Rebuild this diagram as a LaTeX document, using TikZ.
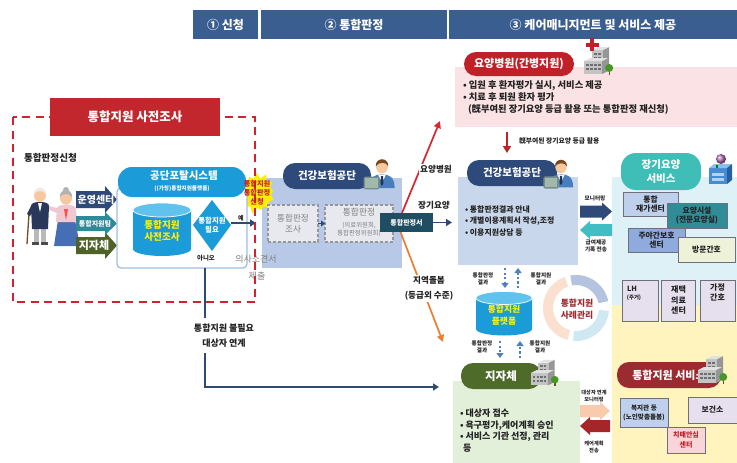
\documentclass[tikz,border=0pt]{standalone}
\usepackage{fontspec}
\setmainfont{Noto Sans CJK KR}
\usetikzlibrary{shapes.symbols,arrows.meta}

\newcommand\fsz[2]{\fontsize{#1}{#2}\selectfont}
% block arrows: colour, x from, x to, y centre, body half height, head half height
\newcommand\rblock[6]{\fill[#1] (#2,#4-#5) -- (#3-10,#4-#5) -- (#3-10,#4-#6) -- (#3,#4) -- (#3-10,#4+#6) -- (#3-10,#4+#5) -- (#2,#4+#5) -- cycle;}
\newcommand\lblock[6]{\fill[#1] (#3,#4-#5) -- (#2+10,#4-#5) -- (#2+10,#4-#6) -- (#2,#4) -- (#2+10,#4+#6) -- (#2+10,#4+#5) -- (#3,#4+#5) -- cycle;}
% upright drum: x centre, y top rim, y bottom rim, x radius, y radius, body colour, lid colour
\newcommand\drum[7]{\fill[#6] (#1-#4,#2) -- (#1-#4,#3) arc[start angle=180,end angle=0,x radius=#4,y radius=#5] -- (#1+#4,#2) -- cycle;
 \fill[#7,draw=white,line width=0.7pt] (#1,#2) ellipse[x radius=#4,y radius=#5];}

\definecolor{hdrblue}{RGB}{59,94,145}
\definecolor{dashred}{RGB}{213,33,47}
\definecolor{titlered}{RGB}{193,39,45}
\definecolor{portalblue}{RGB}{27,155,215}
\definecolor{portaltop}{RGB}{95,195,238}
\definecolor{portalline}{RGB}{160,190,225}
\definecolor{capyellow}{RGB}{255,240,0}
\definecolor{armblue}{RGB}{47,74,120}
\definecolor{armteal}{RGB}{46,138,153}
\definecolor{armolive}{RGB}{79,98,40}
\definecolor{panel2}{RGB}{183,201,230}
\definecolor{pilldark}{RGB}{46,74,122}
\definecolor{dboxfill}{RGB}{232,233,238}
\definecolor{dboxline}{RGB}{150,150,155}
\definecolor{docteal}{RGB}{31,78,99}
\definecolor{linknavy}{RGB}{46,74,114}
\definecolor{linkred}{RGB}{217,38,46}
\definecolor{caseorange}{RGB}{237,125,49}
\definecolor{hosppink}{RGB}{251,226,228}
\definecolor{hospred}{RGB}{192,32,40}
\definecolor{panel3}{RGB}{201,215,236}
\definecolor{recteal}{RGB}{64,190,195}
\definecolor{ltcbg}{RGB}{222,241,247}
\definecolor{ltcteal}{RGB}{63,190,183}
\definecolor{svcyellow}{RGB}{255,244,190}
\definecolor{govgreen}{RGB}{226,239,217}
\definecolor{govolive}{RGB}{78,107,42}
\definecolor{svcred}{RGB}{156,43,49}
\definecolor{peach}{RGB}{248,203,173}
\definecolor{careplan}{RGB}{165,38,40}
\definecolor{textdark}{RGB}{35,35,35}
\definecolor{textgray}{RGB}{128,128,128}
\definecolor{burstyellow}{RGB}{255,238,0}
\definecolor{dotblue}{RGB}{79,129,189}
\definecolor{ltcblue}{RGB}{190,208,235}
\definecolor{nursteal}{RGB}{48,140,150}
\definecolor{daycare}{RGB}{143,170,220}
\definecolor{visitcream}{RGB}{238,242,216}
\definecolor{lavender}{RGB}{230,224,238}
\definecolor{dementia}{RGB}{249,213,218}
\definecolor{boxline}{RGB}{110,110,125}
\definecolor{ringblue}{RGB}{180,196,224}
\definecolor{ringpeach}{RGB}{251,224,208}
\definecolor{ringcyan}{RGB}{208,232,242}
\definecolor{skin}{RGB}{245,200,160}
\definecolor{hairbrown}{RGB}{120,72,30}
\definecolor{agentblue}{RGB}{70,126,190}
\definecolor{agentnavy}{RGB}{30,50,90}
\definecolor{laptopgray}{RGB}{120,140,140}
\definecolor{screengray}{RGB}{160,185,170}
\definecolor{bldglight}{RGB}{225,225,225}
\definecolor{bldgmid}{RGB}{195,195,195}
\definecolor{bldgdark}{RGB}{150,150,150}
\definecolor{windowgray}{RGB}{110,110,115}
\definecolor{treegreen}{RGB}{70,150,40}
\definecolor{manjacket}{RGB}{40,55,90}
\definecolor{hanbokblue}{RGB}{70,110,180}
\definecolor{hanbokpink}{RGB}{240,200,210}
\definecolor{hairwhite}{RGB}{235,235,235}
\definecolor{ltciconblue}{RGB}{70,140,210}
\definecolor{ltciconlight}{RGB}{140,190,235}
\definecolor{ltcicondark}{RGB}{40,95,160}

\tikzset{
 pics/agent/.style={code={
  \fill[agentblue] (-11,14) .. controls (-11,4) and (-6,2) .. (0,2) .. controls (6,2) and (11,4) .. (11,14) -- cycle;
  \fill[white] (-3.5,2.3) -- (0,9) -- (3.5,2.3) -- cycle;
  \fill[agentnavy] (-1,3.5) -- (1,3.5) -- (1.2,10) -- (0,12) -- (-1.2,10) -- cycle;
  \fill[skin] (0,-5) ellipse[x radius=5.2,y radius=6.3];
  \fill[hairbrown] (-5.4,-5) .. controls (-6,-13) and (6,-13) .. (5.4,-5) .. controls (4,-9) and (-3,-9) .. (-5.4,-5) -- cycle;
  \fill[laptopgray,rounded corners=1.5pt] (-16,4) rectangle (-2,15);
  \fill[screengray] (-14.5,5.5) rectangle (-3.5,13.5);
 }},
 pics/bldg/.style={code={
  \fill[bldgmid] (-8,-12) rectangle (3,8);
  \fill[bldgdark] (3,-12) -- (9,-15) -- (9,5) -- (3,8) -- cycle;
  \fill[bldglight] (-8,-12) -- (-2,-15) -- (9,-15) -- (3,-12) -- cycle;
  \foreach \wx in {-6,-2} \foreach \wy in {-9,-5} \fill[windowgray] (\wx,\wy) rectangle ++(2.5,2);
  \fill[bldgmid] (-16,-1) rectangle (2,12);
  \fill[bldgdark] (2,-1) -- (8,-4) -- (8,9) -- (2,12) -- cycle;
  \fill[bldglight] (-16,-1) -- (-10,-4) -- (8,-4) -- (2,-1) -- cycle;
  \foreach \wx in {-14,-10,-6,-2} \foreach \wy in {2,6} \fill[windowgray] (\wx,\wy) rectangle ++(2.5,2);
  \fill[brown!60!black] (8.5,8) rectangle (10,13);
  \fill[treegreen] (9.2,6) circle[radius=4];
 }},
 pics/carekit/.style={code={
  \fill[ltciconblue] (-12,-2) rectangle (6,14);
  \fill[ltciconlight] (-12,-2) -- (-7,-6) -- (11,-6) -- (6,-2) -- cycle;
  \fill[ltcicondark] (6,-2) -- (11,-6) -- (11,10) -- (6,14) -- cycle;
  \fill[white!60!ltciconblue] (-9,3) rectangle (3,6);
  \fill[white!60!ltciconblue] (-9,8) rectangle (3,11);
  \fill[green!50!black] (-5,-5) rectangle (-3,-2);
  \shade[ball color=violet!55] (0,-11) circle[radius=5];
 }}
}

\begin{document}
\begin{tikzpicture}[x=1pt,y=-1pt,
  every node/.style={inner sep=0pt,outer sep=0pt},
  hdrcell/.style={fill=hdrblue,text=white,font=\fsz{12}{14}\bfseries,minimum height=29pt},
  pill/.style={rounded corners=12pt,text=white,font=\fsz{10.5}{12}\bfseries,minimum height=26pt},
  tag/.style={text=textdark,font=\fsz{8.6}{10.5}\bfseries,align=center},
  note/.style={text=textdark,font=\fsz{5.6}{7.4}\bfseries,align=center},
  bullets/.style={anchor=west,align=left,text=textdark},
  link/.style={draw=linknavy,line width=1.8pt,-{Triangle[length=6pt,width=7pt]}},
  dotlink/.style={draw=dotblue,line width=2.4pt,dash pattern=on 2.3pt off 2.2pt,-{Triangle[length=5pt,width=7pt]}},
  judgebox/.style={draw=dboxline,line width=1.1pt,dash pattern=on 3pt off 2pt,fill=dboxfill,text=textgray,align=center},
  svcbox/.style={draw=boxline,line width=0.8pt,text=textdark,font=\fsz{7.8}{9.6}\bfseries,align=center},
 ]
\fill[white] (0,0) rectangle (737,463);
\useasboundingbox (0,0) rectangle (737,463);

% phase headers
\node[hdrcell,minimum width=65pt] (hA) at (225.5,24.5) {① 신청};
\node[hdrcell,minimum width=186pt] (hB) at (354,24.5) {② 통합판정};
\node[hdrcell,minimum width=288pt] (hC) at (593,24.5) {③ 케어매니지먼트 및 서비스 제공};

% background panels
\node[fill=panel2,minimum width=140pt,minimum height=90pt] (nhis2) at (332,223) {};
\node[fill=hosppink,minimum width=282pt,minimum height=60pt] (hosp) at (596,97) {};
\node[fill=panel3,minimum width=120pt,minimum height=88pt] (nhis3) at (518,221) {};
\node[fill=govgreen,minimum width=127pt,minimum height=82pt] (gov) at (516.5,422) {};
\node[fill=ltcbg,minimum width=125pt,minimum height=128pt] (ltc) at (674.5,241) {};
\node[fill=svcyellow,minimum width=125pt,minimum height=158pt] (svc) at (674.5,384) {};

% application burst
\node[starburst,fill=burstyellow,minimum width=42pt,minimum height=44pt,starburst points=13,starburst point height=7pt] (burst) at (257,193) {};

\node[anchor=west,text=textdark,font=\fsz{9.6}{11}\bfseries] (applyhd) at (24,158) {통합판정신청};

% elderly couple
\draw[brown!60!black,line width=1.3pt] (29,214) -- (27,244);
\fill[gray!55] (34,226) rectangle (39,243);
\fill[gray!55] (41,226) rectangle (46,243);
\fill[black!70] (32,242) rectangle (39,245);
\fill[black!70] (41,242) rectangle (48,245);
\fill[manjacket] (31,206) .. controls (31,203) and (35,202) .. (40,202) .. controls (45,202) and (49,203) .. (49,206) -- (48,229) -- (32,229) -- cycle;
\fill[manjacket] (31,206) -- (27,214) -- (30,216) -- (34,210) -- cycle;
\fill[white] (38,203) -- (40,212) -- (42,203) -- cycle;
\fill[skin] (40,195) ellipse[x radius=6,y radius=7];
\fill[hairwhite] (34,194) .. controls (34,186) and (46,186) .. (46,194) .. controls (43,190) and (37,190) .. (34,194);
\fill[hanbokblue] (58,220) -- (75,220) -- (80,246) -- (54,246) -- cycle;
\fill[hanbokpink] (57,208) .. controls (58,205) and (62,205) .. (66,205) .. controls (70,205) and (74,205) .. (76,208) -- (77,222) -- (56,222) -- cycle;
\fill[hanbokpink] (57,208) -- (49,206) -- (49,210) -- (57,213) -- cycle;
\fill[red!70] (64,209) -- (68,209) -- (66,220) -- cycle;
\fill[skin] (66,198) ellipse[x radius=6,y radius=6.8];
\fill[gray!60] (60,197) .. controls (59,188) and (73,188) .. (72,197) .. controls (70,193) and (62,193) .. (60,197);
\fill[gray!60] (66,190) circle[radius=3];

% intake channels
\fill[armolive] (76,237) -- (105,237) -- (105,232) -- (117,245.5) -- (105,259) -- (105,254) -- (76,254) -- cycle;
\fill[armteal] (76,216) -- (105,216) -- (105,212) -- (117,223.5) -- (105,235) -- (105,231) -- (76,231) -- cycle;
\fill[armblue] (76,191) -- (105,191) -- (105,186) -- (117,199.5) -- (105,213) -- (105,208) -- (76,208) -- cycle;
\node[text=white,font=\fsz{10}{11}\bfseries] (opcenter) at (96,199.5) {운영센터};
\node[text=white,font=\fsz{7}{8}\bfseries] (team) at (95,223.5) {통합지원팀};
\node[text=white,font=\fsz{11}{12}\bfseries] (localgov) at (94,245.5) {지자체};

% portal system
\node[draw=portalline,line width=1.3pt,fill=white,rounded corners=4pt,minimum width=130pt,minimum height=80pt] (portal) at (182,228) {};
\node[fill=portalblue,rounded corners=14pt,minimum width=128pt,minimum height=30pt] (portalhd) at (182,182) {};
\node[text=white,font=\fsz{10.5}{12}\bfseries] (portalname) at (184,176) {공단포탈시스템};
\node[text=white,font=\fsz{5.6}{7}\bfseries] (portalsub) at (182,188.5) {((가칭)통합지원플랫폼)};
\drum{162}{210}{249}{29}{7}{portalblue}{portaltop}
\node[text=capyellow,font=\fsz{9.6}{12}\bfseries,align=center] (survey) at (162,231) {통합지원\\사전조사};
\fill[portalblue] (212,200) -- (231,225) -- (212,251) -- (193,225) -- cycle;
\node[text=white,font=\fsz{7.4}{9.5}\bfseries,align=center] (need) at (212,225) {통합지원\\필요};
\coordinate (needE) at (231,223);
\coordinate (yesE) at (256,223);
\draw[link] (needE) -- (yesE);
\node[text=textdark,font=\fsz{6}{7}\bfseries] (yes) at (241,218) {예};
\node[text=textdark,font=\fsz{6.4}{7}\bfseries] (no) at (206,258) {아니오};

% doctor's opinion note
\node[text=textgray,font=\fsz{9}{11}] (opinion) at (256,259) {의사소견서};
\node[text=textgray,font=\fsz{9}{11}] (opinion2) at (257,276) {제출};

% pre-survey frame
\draw[dashred,line width=2.2pt,dash pattern=on 8pt off 5.5pt] (13,117) rectangle (255,302);
\node[fill=titlered,text=white,font=\fsz{12.5}{14}\bfseries,minimum width=170pt,minimum height=38pt] (pretitle) at (135,117) {통합지원 사전조사};
\node[text=hospred,font=\fsz{7.2}{9.2}\bfseries,align=center] (bursttxt) at (257,193) {통합지원\\통합판정\\신청};

% no-support route
\coordinate (noTop) at (205,318);
\coordinate (noBot) at (205,353);
\coordinate (noTurn) at (205,387);
\coordinate (noEnd) at (439,387);
\draw[draw=linknavy,line width=1.8pt] (portal.south -| noTop) -- (noTop);
\draw[link] (noBot) -- (noTurn) -- (noEnd);
\node[tag,font=\fsz{9}{15}\bfseries] (nolink) at (224,335.5) {통합지원 불필요\\대상자 연계};

% stage 2: integrated assessment
\node[pill,fill=pilldark,minimum width=88pt] (nhis2hd) at (327,176) {건강보험공단};
\pic[scale=1.15] at (382,172) {agent};
\node[judgebox,minimum width=50pt,minimum height=37pt,font=\fsz{8.6}{11}] (judgeinv) at (293,223.5) {통합판정\\조사};
\node[judgebox,minimum width=68pt,minimum height=37pt] (judge) at (359,223.5) {};
\node[text=textgray,font=\fsz{8.8}{10}] (judgeA) at (359,212) {통합판정};
\node[text=textgray,font=\fsz{6.4}{8},align=center] (judgeB) at (359,229) {(의료위원회,\\통합판정위원회)};
\draw[draw=linknavy,line width=1.5pt,-{Triangle[length=4pt,width=6pt]}] (judgeinv.east) -- (judge.west);

% routes out of the decision
\coordinate (toHosp) at (440,121);
\coordinate (toGov) at (443,342);
\draw[draw=linkred,line width=1.7pt,-{Triangle[length=7pt,width=7pt]}] (402,213) -- (toHosp);
\draw[draw=caseorange,line width=1.7pt,-{Triangle[length=7pt,width=7pt]}] (400.5,232) -- (toGov);
\node[fill=docteal,text=white,font=\fsz{7}{8}\bfseries,minimum width=53pt,minimum height=19pt] (doc) at (406.5,222.5) {통합판정서};
\draw[link,shorten >=6pt] (doc.east) -- (doc.east -| nhis3.west);
\node[tag,fill=white,inner sep=1pt] (hospRoute) at (436,169) {요양병원};
\node[tag] (ltcRoute) at (434,205) {장기요양};
\node[tag,fill=white,inner sep=1pt,font=\fsz{8.6}{15}\bfseries] (commRoute) at (429,288.5) {지역돌봄\\(등급외 수준)};

% stage 3: hospital
\node[pill,fill=hospred,minimum width=110pt,minimum height=24pt,font=\fsz{11}{12}\bfseries] (hosphd) at (519,64) {요양병원(간병지원)};
\pic at (600,62) {bldg};
\fill[hospred] (590,38) rectangle (594,51);
\fill[hospred] (585.5,42.5) rectangle (598.5,46.5);
\node[bullets,font=\fsz{9.3}{11.6}\bfseries] (hosptxt) at (463,97.5) {• 입원 후 환자평가 실시, 서비스 제공\\• 치료 후 퇴원 환자 평가\\\hspace*{5pt}(旣부여된 장기요양 등급 활용 또는 통합판정 재신청)};
\node[anchor=west,text=textdark,font=\fsz{6.8}{8}\bfseries] (reuse) at (519,141) {旣부여된 장기요양 등급 활용};

% stage 3: insurance service
\node[pill,fill=pilldark,minimum width=90pt] (nhis3hd) at (512,173) {건강보험공단};
\pic[scale=1.1] at (561,172) {agent};
\coordinate (hd) at (507,0);
\draw[draw=hospred,line width=2pt,-{Triangle[length=7pt,width=8pt]},shorten <=5pt,shorten >=7pt] (hosp.south -| hd) -- (nhis3hd.north -| hd);
\node[bullets,font=\fsz{7.9}{11.2}\bfseries] (nhis3txt) at (465,221) {• 통합판정결과 안내\\• 개별이용계획서 작성,조정\\• 이용지원상담 등};
\rblock{armblue}{580}{612}{211.5}{6}{9}
\lblock{recteal}{580}{612}{230}{6}{9}
\node[note] (montxt) at (595,198) {모니터링};
\node[note] (rectxt) at (596,246) {급여제공\\기록 전송};

% integrated platform
\drum{504}{298}{329}{28}{6.5}{portalblue}{portaltop}
\node[text=capyellow,font=\fsz{8.8}{11.5}\bfseries,align=center,minimum width=56pt,minimum height=44pt] (plat) at (504,315) {통합지원\\플랫폼};
\coordinate (d1) at (505,0);
\coordinate (d2) at (518,0);
\coordinate (d3) at (500,0);
\coordinate (d4) at (520,0);
\draw[dotlink,shorten <=3pt,shorten >=5pt] (nhis3.south -| d1) -- (plat.north -| d1);
\draw[dotlink,shorten <=5pt,shorten >=3pt] (plat.north -| d2) -- (nhis3.south -| d2);
\node[note] (resA) at (483,279) {통합판정\\결과};
\node[note] (resB) at (541,279) {통합지원\\결과};

% case management ring
\begin{scope}[shift={(576,308)}]
 \fill[ringblue] (-12:33) arc[start angle=-12,end angle=-100,radius=33] -- (-100:23) arc[start angle=-100,end angle=-12,radius=23] -- cycle;
 \fill[ringpeach] (-110:33) arc[start angle=-110,end angle=-255,radius=33] -- (-255:23) arc[start angle=-255,end angle=-110,radius=23] -- cycle;
 \fill[ringcyan] (-265:33) arc[start angle=-265,end angle=-355,radius=33] -- (-355:23) arc[start angle=-355,end angle=-265,radius=23] -- cycle;
\end{scope}
\node[text=svcred,font=\fsz{8.8}{11.5}\bfseries,align=center] (casemgmt) at (577,309) {통합지원\\사례관리};

% stage 3: local government
\node[pill,fill=govolive,minimum width=80pt,font=\fsz{11.5}{12}\bfseries] (govhd) at (501,376) {지자체};
\pic[scale=0.95] at (546,374) {bldg};
\draw[dotlink,shorten <=4pt,shorten >=5pt] (plat.south -| d3) -- (govhd.north -| d3);
\draw[dotlink,shorten <=5pt,shorten >=4pt] (govhd.north -| d4) -- (plat.south -| d4);
\node[note] (resC) at (482,347) {통합판정\\결과};
\node[note] (resD) at (540,347) {통합지원\\결과};
\node[bullets,font=\fsz{9}{11.7}\bfseries] (govtxt) at (460,430.5) {• 대상자 접수\\• 욕구평가,케어계획 승인\\• 서비스 기관 선정, 관리\\\hspace*{3pt}등};
\rblock{peach}{580}{610}{411}{6}{9}
\lblock{careplan}{580}{610}{426}{6}{9}
\node[note,font=\fsz{5.2}{7}\bfseries] (linklbl) at (594,396) {대상자 연계\\모니터링};
\node[note,font=\fsz{5.2}{7}\bfseries] (plantxt) at (594,447) {케어계획\\전송};

% long-term care services
\node[fill=ltcteal,rounded corners=15pt,minimum width=80pt,minimum height=37pt,text=white,font=\fsz{10.5}{14.5}\bfseries,align=center] (ltchd) at (661,171.5) {장기요양\\서비스};
\pic at (721,170) {carekit};
\node[svcbox,fill=ltcblue,minimum width=55pt,minimum height=24pt] (homectr) at (650.5,204) {통합\\재가센터};
\node[svcbox,fill=nursteal,minimum width=60pt,minimum height=25pt] (facility) at (697,215.5) {요양시설\\(전문요양실)};
\node[svcbox,fill=daycare,minimum width=57pt,minimum height=24pt] (daycare) at (656.5,240) {주야간보호\\센터};
\node[svcbox,fill=visitcream,minimum width=57pt,minimum height=25pt] (visitnurse) at (706.5,249.5) {방문간호};
\node[svcbox,fill=lavender,minimum width=36pt,minimum height=41pt] (housing) at (640,300.5) {};
\node[text=textdark,font=\fsz{7.2}{8}\bfseries] (lh) at (632,289) {LH};
\node[text=textdark,font=\fsz{5.4}{6}\bfseries] (lhsub) at (634,298) {(주거)};
\node[svcbox,fill=lavender,minimum width=34pt,minimum height=41pt,font=\fsz{8}{10.5}\bfseries] (homemed) at (678.5,300.5) {재택\\의료\\센터};
\node[svcbox,fill=lavender,minimum width=35pt,minimum height=41pt] (homecare) at (717.5,300.5) {};
\node[text=textdark,font=\fsz{8}{10.5}\bfseries,align=center] (homecaretxt) at (717.5,292.5) {가정\\간호};

% integrated support services
\node[pill,fill=svcred,minimum width=104pt,font=\fsz{11}{12}\bfseries] (svchd) at (669,375) {통합지원 서비스};
\pic at (714,371) {bldg};
\node[svcbox,fill=ltcblue,minimum width=48pt,minimum height=29pt,font=\fsz{6.6}{9}\bfseries] (welfare) at (644,412.5) {복지관 등\\(노인맞춤돌봄)};
\node[svcbox,fill=lavender,minimum width=49pt,minimum height=26pt] (healthctr) at (712.5,410) {보건소};
\node[svcbox,fill=dementia,minimum width=38pt,minimum height=26pt,text=hospred,font=\fsz{7}{9.5}\bfseries] (dementia) at (686,440) {치매안심\\센터};
\end{tikzpicture}
\end{document}
